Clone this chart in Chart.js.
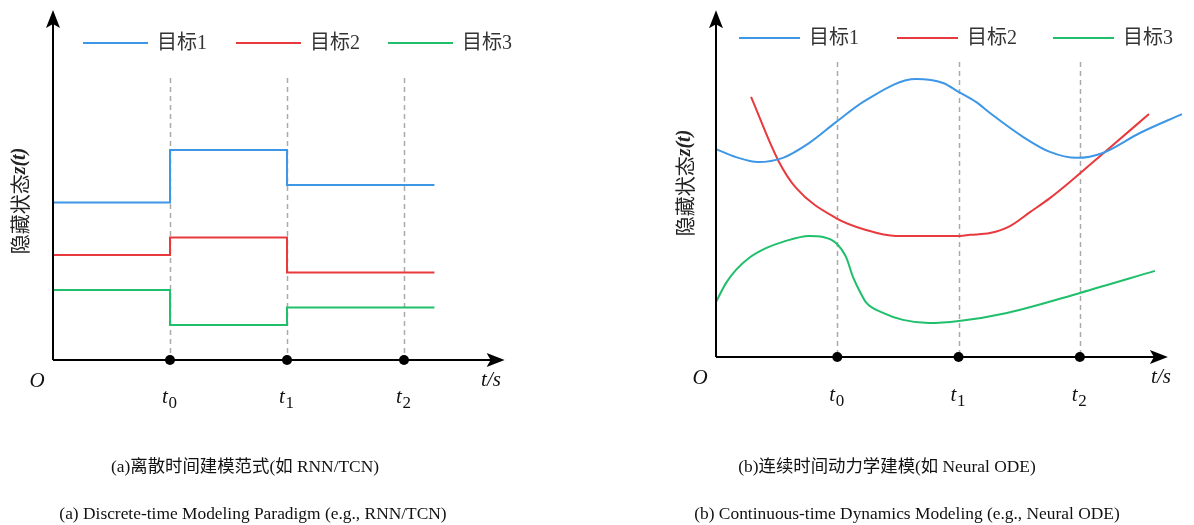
<!DOCTYPE html>
<html>
<head>
<meta charset="utf-8">
<script src="https://cdn.jsdelivr.net/npm/chart.js@4/dist/chart.umd.min.js"></script>
<style>
body{margin:0;background:#fff;width:1194px;height:525px;overflow:hidden;position:relative;}
.panel{position:absolute;top:0;width:597px;height:525px;}
.cap{position:absolute;font-family:"Liberation Serif","Noto Sans CJK SC",serif;font-size:17.4px;color:#111;white-space:nowrap;transform:translate(-50%,-50%);line-height:1;}
</style>
</head>
<body>
<div class="panel" style="left:0"><canvas id="chart1"></canvas></div>
<div class="panel" style="left:597px"><canvas id="chart2"></canvas></div>
<div class="cap" style="left:245px;top:467px">(a)离散时间建模范式(如 RNN/TCN)</div>
<div class="cap" style="left:253px;top:514px">(a) Discrete-time Modeling Paradigm (e.g., RNN/TCN)</div>
<div class="cap" style="left:887px;top:467px">(b)连续时间动力学建模(如 Neural ODE)</div>
<div class="cap" style="left:907px;top:514px">(b) Continuous-time Dynamics Modeling (e.g., Neural ODE)</div>
<script>
seriesNames = ['目标1', '目标2', '目标3'];
seriesColors = ['#3D97E6', '#E8393D', '#1FBF6B'];
markTimes = [1, 2, 3];
markSubs = ['0', '1', '2'];

// (a) discrete: value held until next time step
discreteX = [0, 1, 2, 3.26];
discrete1 = [4.5, 6, 5, 5];
discrete2 = [3, 3.5, 2.5, 2.5];
discrete3 = [2, 1, 1.5, 1.5];

// (b) continuous trajectories
cont1X = [0, 0.165, 0.346, 0.552, 0.767, 0.989, 1.237, 1.649, 1.872, 2.003, 2.143, 2.259, 2.531, 2.753, 2.976, 3.19, 3.495, 3.842];
cont1Y = [5.94, 5.71, 5.57, 5.69, 6.11, 6.71, 7.34, 7.94, 7.83, 7.57, 7.29, 6.97, 6.29, 5.86, 5.69, 5.83, 6.4, 6.94];
cont2X = [0.289, 0.511, 0.66, 0.989, 1.237, 1.484, 2.012, 2.094, 2.259, 2.424, 2.589, 2.753, 2.918, 3.223, 3.57];
cont2Y = [7.43, 5.63, 4.83, 3.97, 3.63, 3.46, 3.46, 3.49, 3.54, 3.74, 4.14, 4.54, 5.0, 5.91, 6.94];
cont3X = [0, 0.082, 0.165, 0.272, 0.412, 0.552, 0.767, 0.882, 0.989, 1.072, 1.129, 1.179, 1.237, 1.377, 1.542, 1.756, 2.003, 2.399, 3.001, 3.619];
cont3Y = [1.57, 2.11, 2.49, 2.83, 3.11, 3.29, 3.46, 3.43, 3.26, 2.86, 2.29, 1.92, 1.56, 1.26, 1.06, 0.97, 1.03, 1.26, 1.83, 2.46];

function pts(xs, ys){
    return xs.map(function(x, i){ return {x: x, y: ys[i]}; });
}

function drawArrow(ctx, tx, ty, dir){
    // dir: 'up' or 'right'
    ctx.save();
    ctx.translate(tx, ty);
    if(dir == 'right') ctx.rotate(Math.PI/2);
    ctx.beginPath();
    ctx.moveTo(0, 0);
    ctx.lineTo(7, 18);
    ctx.lineTo(0, 14);
    ctx.lineTo(-7, 18);
    ctx.closePath();
    ctx.fillStyle = '#000';
    ctx.fill();
    ctx.restore();
}

function axisPlugin(cfg){
    return {
        id: 'axes' + cfg.name,
        beforeDatasetsDraw: function(chart){
            const ctx = chart.ctx;
            const xs = chart.scales.x, ys = chart.scales.y;
            const y0 = ys.getPixelForValue(0);
            ctx.save();
            ctx.strokeStyle = '#aaaaaa';
            ctx.lineWidth = 1.5;
            ctx.setLineDash([5, 4]);
            markTimes.forEach(function(t){
                const px = Math.round(xs.getPixelForValue(t)) + 0.5;
                ctx.beginPath();
                ctx.moveTo(px, cfg.dashTop);
                ctx.lineTo(px, y0);
                ctx.stroke();
            });
            ctx.restore();
        },
        afterDraw: function(chart){
            const ctx = chart.ctx;
            const xs = chart.scales.x, ys = chart.scales.y;
            const x0 = xs.getPixelForValue(0);
            const y0 = ys.getPixelForValue(0);
            const xTip = xs.getPixelForValue(cfg.arrowX);
            const yTip = ys.getPixelForValue(cfg.arrowY);
            ctx.save();
            ctx.strokeStyle = '#000';
            ctx.lineWidth = 2;
            ctx.beginPath();
            ctx.moveTo(x0, y0);
            ctx.lineTo(x0, yTip + 12);
            ctx.moveTo(x0, y0);
            ctx.lineTo(xTip - 12, y0);
            ctx.stroke();
            drawArrow(ctx, x0, yTip, 'up');
            drawArrow(ctx, xTip, y0, 'right');

            ctx.fillStyle = '#000';
            markTimes.forEach(function(t, i){
                const px = xs.getPixelForValue(t);
                ctx.beginPath();
                ctx.arc(px, y0, 5, 0, Math.PI*2);
                ctx.fill();
                ctx.fillStyle = '#111';
                ctx.textBaseline = 'alphabetic';
                ctx.textAlign = 'left';
                ctx.font = 'italic 21px "Liberation Serif"';
                ctx.fillText('t', px - 8, y0 + cfg.tOff);
                ctx.font = '17px "Liberation Serif"';
                ctx.fillText(markSubs[i], px - 1.5, y0 + cfg.tOff + 5);
                ctx.fillStyle = '#000';
            });

            ctx.fillStyle = '#111';
            ctx.font = 'italic 21px "Liberation Serif"';
            ctx.textAlign = 'center';
            ctx.textBaseline = 'middle';
            ctx.fillText('O', x0 - 16, y0 + 21);
            ctx.fillText('t/s', cfg.tsX, y0 + 20);

            // legend
            ctx.lineWidth = 2;
            ctx.textAlign = 'left';
            ctx.font = '20px "Liberation Serif", "Noto Sans CJK SC"';
            chart.data.datasets.forEach(function(ds, i){
                const lx = cfg.legendX[i];
                ctx.strokeStyle = ds.borderColor;
                ctx.beginPath();
                ctx.moveTo(lx, cfg.legendY);
                ctx.lineTo(lx + cfg.legendLen, cfg.legendY);
                ctx.stroke();
                ctx.fillStyle = '#333';
                ctx.fillText(ds.label, lx + cfg.legendLen + 9, cfg.legendY + 1);
            });

            // y axis title
            ctx.translate(cfg.titleX, cfg.titleY);
            ctx.rotate(-Math.PI/2);
            ctx.fillStyle = '#222';
            ctx.textAlign = 'left';
            ctx.font = '20px "Noto Sans CJK SC"';
            const w1 = ctx.measureText('隐藏状态').width;
            ctx.font = 'bold italic 20px "Liberation Serif"';
            const w2 = ctx.measureText('z(t)').width;
            const start = -(w1 + w2)/2;
            ctx.font = '20px "Noto Sans CJK SC"';
            ctx.fillText('隐藏状态', start, 0);
            ctx.font = 'bold italic 20px "Liberation Serif"';
            ctx.fillText('z(t)', start + w1, 0);
            ctx.restore();
        }
    };
}

function makeDatasets(xs, ysList, stepped){
    return ysList.map(function(ys, i){
        return {
            label: seriesNames[i],
            data: pts(xs[i], ys),
            borderColor: seriesColors[i],
            backgroundColor: seriesColors[i],
            borderWidth: 2,
            pointRadius: 0,
            fill: false,
            stepped: stepped,
            cubicInterpolationMode: stepped ? 'default' : 'monotone'
        };
    });
}

chart1 = new Chart(document.querySelector('canvas#chart1').getContext('2d'), {
    type: 'line',
    data: {
        datasets: makeDatasets([discreteX, discreteX, discreteX], [discrete1, discrete2, discrete3], true)
    },
    options: {
        responsive: true,
        maintainAspectRatio: false,
        animation: false,
        layout: {padding: {left: 53, top: 10, right: 76, bottom: 165}},
        scales: {
            x: {type: 'linear', min: 0, max: 4, display: false},
            y: {type: 'linear', min: 0, max: 10, display: false}
        },
        plugins: {legend: {display: false}, tooltip: {enabled: false}}
    },
    plugins: [axisPlugin({name: 'a', dashTop: 78, arrowX: 3.86, arrowY: 10, tOff: 43, tsX: 491,
        legendX: [83, 236, 388], legendY: 43, legendLen: 65, titleX: 20, titleY: 201})]
});

chart2 = new Chart(document.querySelector('canvas#chart2').getContext('2d'), {
    type: 'line',
    data: {
        datasets: makeDatasets([cont1X, cont2X, cont3X], [cont1Y, cont2Y, cont3Y], false)
    },
    options: {
        responsive: true,
        maintainAspectRatio: false,
        animation: false,
        layout: {padding: {left: 119, top: 7, right: 5, bottom: 168}},
        scales: {
            x: {type: 'linear', min: 0, max: 3.9, display: false},
            y: {type: 'linear', min: 0, max: 10, display: false}
        },
        plugins: {legend: {display: false}, tooltip: {enabled: false}}
    },
    plugins: [axisPlugin({name: 'b', dashTop: 62, arrowX: 3.726, arrowY: 9.91, tOff: 44, tsX: 564,
        legendX: [142, 300, 456], legendY: 38, legendLen: 61, titleX: 88, titleY: 183})]
});
</script>
</body>
</html>
